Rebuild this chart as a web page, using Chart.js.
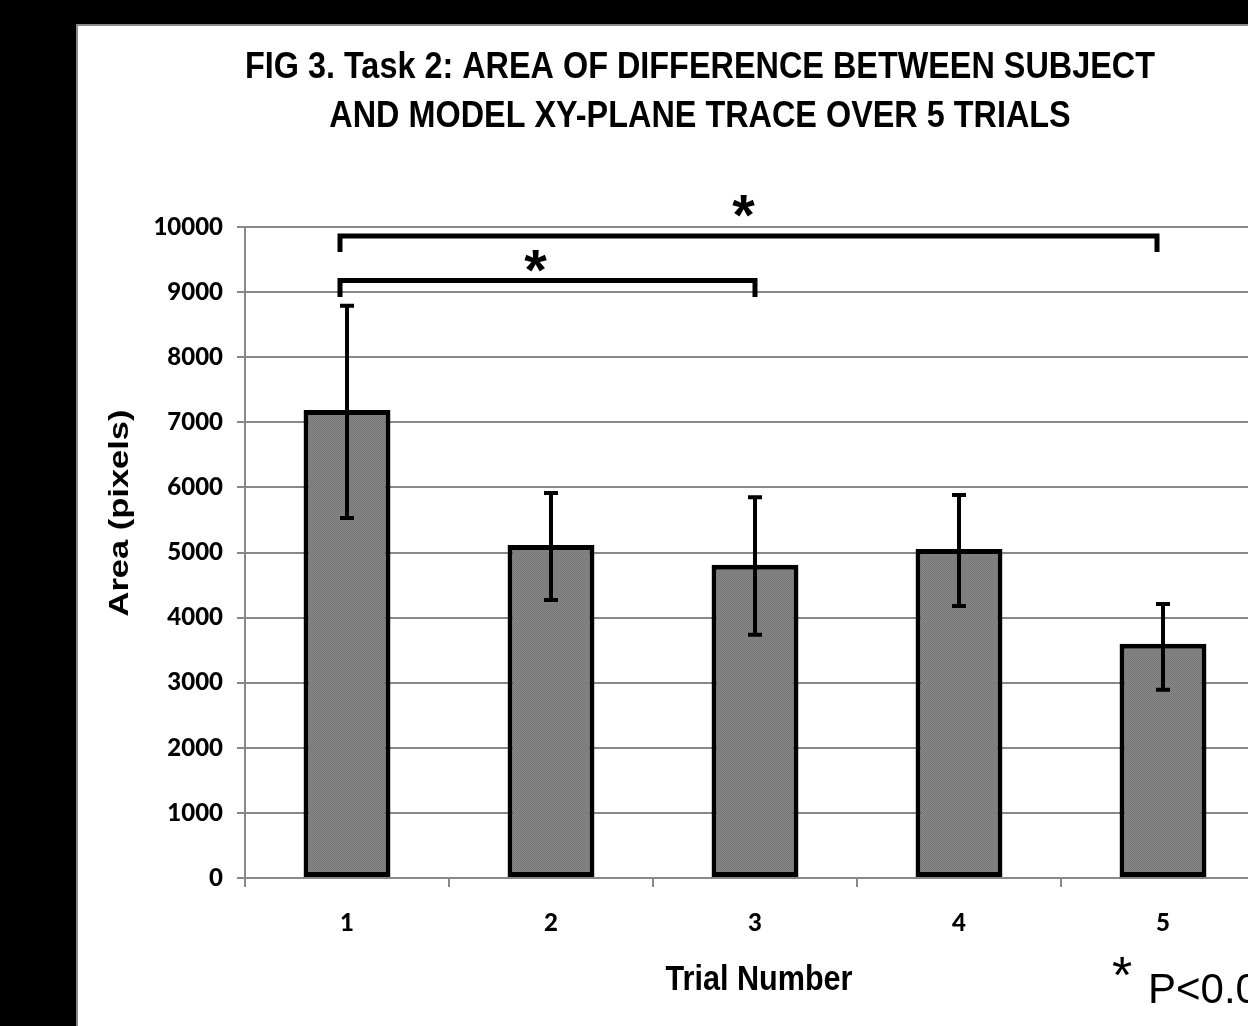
<!DOCTYPE html>
<html><head><meta charset="utf-8">
<script src="https://cdn.jsdelivr.net/npm/chart.js@4.4.1/dist/chart.umd.min.js"></script>
<style>
html,body{margin:0;padding:0;background:#000;overflow:hidden;}
#wrap{position:relative;width:1248px;height:1026px;overflow:hidden;background:#000;}
canvas{position:absolute;left:0;top:0;}
</style></head><body>
<div id="wrap"><canvas id="c" width="1300" height="1026"></canvas></div>
<script>
// ---- data ----
const categories = ['1', '2', '3', '4', '5'];
const areaValues = [7190, 5115, 4810, 5055, 3600];
const errorUpper = [8790, 5915, 5850, 5885, 4210];
const errorLower = [5530, 4270, 3735, 4180, 2890];
const yTickValues = [0, 1000, 2000, 3000, 4000, 5000, 6000, 7000, 8000, 9000, 10000];
const sigPairs = [['1', '3'], ['1', '5']];
const sigLevels = [9180, 9860];
const sigTickBottoms = [8925, 9615];
const sigStarLevels = [9480, 10320];
const titleLines = ['FIG 3. Task 2: AREA OF DIFFERENCE BETWEEN SUBJECT', 'AND MODEL XY-PLANE TRACE OVER 5 TRIALS'];
const xTitle = 'Trial Number';
const yTitle = 'Area (pixels)';
const noteStar = '*';
const noteText = 'P<0.05';

const canvas = document.getElementById('c');
const ctx = canvas.getContext('2d');

// checker fill like the original bars
const pc = document.createElement('canvas');
pc.width = 2; pc.height = 2;
const pctx = pc.getContext('2d');
pctx.fillStyle = '#868686'; pctx.fillRect(0, 0, 2, 2);
pctx.fillStyle = '#787878'; pctx.fillRect(0, 0, 1, 1); pctx.fillRect(1, 1, 1, 1);
const barPattern = ctx.createPattern(pc, 'repeat');

function fitText(c, text, x, y, font, width, rotate) {
  c.save();
  c.font = font;
  const w = c.measureText(text).width;
  const s = width / w;
  c.translate(x, y);
  if (rotate) c.rotate(-Math.PI / 2);
  c.scale(s, 1);
  c.textAlign = 'center';
  c.textBaseline = 'alphabetic';
  c.fillText(text, 0, 0);
  c.restore();
  return s;
}

const decor = {
  id: 'decor',
  beforeDraw(chart) {
    const c = chart.ctx;
    c.save();
    c.fillStyle = '#000';
    c.fillRect(0, 0, chart.width, chart.height);
    c.fillStyle = '#fff';
    c.fillRect(77, 25, chart.width, chart.height);
    c.strokeStyle = '#8a8a8a';
    c.lineWidth = 2;
    c.strokeRect(77, 25, chart.width + 10, chart.height + 10);
    c.restore();
  },
  afterDraw(chart) {
    const c = chart.ctx;
    c.save();
    c.fillStyle = '#000';
    // main title (condensed bold)
    const tFont = 'bold 36px "Liberation Sans Narrow", "Liberation Sans", Arial, sans-serif';
    c.font = tFont;
    const s = 910 / c.measureText(titleLines[0]).width;
    [78, 127].forEach((by, i) => {
      c.save();
      c.font = tFont;
      c.translate(700, by);
      c.scale(s, 1);
      c.textAlign = 'center';
      c.fillText(titleLines[i], 0, 0);
      c.restore();
    });
    // axis titles
    fitText(c, xTitle, 759, 990, 'bold 35px "Liberation Sans Narrow", "Liberation Sans", Arial, sans-serif', 187, false);
    fitText(c, yTitle, 128, 513, 'bold 28px "Liberation Sans", Arial, sans-serif', 207, true);
    // note
    c.font = '52px "Liberation Sans", Arial, sans-serif';
    const m = c.measureText(noteStar);
    c.textAlign = 'left';
    c.fillText(noteStar, 1112 - m.actualBoundingBoxLeft, 957 + m.actualBoundingBoxAscent);
    c.font = '42px "Liberation Sans", Arial, sans-serif';
    c.fillText(noteText, 1148, 1003);
    c.restore();
  },
  afterDatasetsDraw(chart) {
    const c = chart.ctx;
    const x = chart.scales.x, y = chart.scales.y;
    const meta = chart.getDatasetMeta(0);
    c.save();
    c.strokeStyle = '#000';
    c.lineCap = 'butt';
    // error bars
    meta.data.forEach((bar, i) => {
      const px = bar.x;
      const yt = y.getPixelForValue(errorUpper[i]);
      const yb = y.getPixelForValue(errorLower[i]);
      c.lineWidth = 4;
      c.beginPath();
      c.moveTo(px, yt); c.lineTo(px, yb);
      c.moveTo(px - 7, yt); c.lineTo(px + 7, yt);
      c.moveTo(px - 7, yb); c.lineTo(px + 7, yb);
      c.stroke();
    });
    // significance brackets
    sigPairs.forEach((pair, i) => {
      const x1 = x.getPixelForValue(categories.indexOf(pair[0])) - 7;
      const x2 = x.getPixelForValue(categories.indexOf(pair[1])) - (i === 0 ? 0 : 6);
      const yl = y.getPixelForValue(sigLevels[i]);
      const yb = y.getPixelForValue(sigTickBottoms[i]);
      c.lineWidth = 5;
      c.lineJoin = 'miter';
      c.beginPath();
      c.moveTo(x1, yb); c.lineTo(x1, yl); c.lineTo(x2, yl); c.lineTo(x2, yb);
      c.stroke();
      // star
      c.font = 'bold 58px "Liberation Sans", Arial, sans-serif';
      const m = c.measureText('*');
      const cx = (x1 + x2) / 2 - (i === 0 ? 12 : 5);
      const cy = y.getPixelForValue(sigStarLevels[i]);
      const base = cy + (m.actualBoundingBoxAscent - m.actualBoundingBoxDescent) / 2;
      c.textAlign = 'center';
      c.fillStyle = '#000';
      c.fillText('*', cx, base);
    });
    c.restore();
  }
};

const tickFont = { family: 'Lato', weight: '900', size: 24 };

new Chart(canvas, {
  type: 'bar',
  data: {
    labels: categories,
    datasets: [{
      data: areaValues,
      backgroundColor: barPattern,
      borderColor: '#000',
      borderWidth: 5,
      borderSkipped: false,
      barPercentage: 0.426,
      categoryPercentage: 1.0
    }]
  },
  options: {
    responsive: false,
    devicePixelRatio: 1,
    animation: false,
    layout: { padding: { left: 77, top: 227, right: 35, bottom: 0 } },
    plugins: { legend: { display: false }, title: { display: false }, tooltip: { enabled: false } },
    scales: {
      x: {
        offset: true,
        grid: { offset: true, drawOnChartArea: false, drawTicks: true, tickLength: 9, color: '#888', lineWidth: 2 },
        border: { display: true, color: '#888', width: 2 },
        ticks: { color: '#000', font: tickFont, padding: 22 },
        afterFit: s => { s.height = 148; }
      },
      y: {
        min: 0, max: 10000,
        afterBuildTicks: s => { s.ticks = yTickValues.map(v => ({ value: v })); },
        ticks: { color: '#000', font: tickFont, padding: 14, callback: v => String(v) },
        grid: { color: '#888', lineWidth: 2, tickLength: 8 },
        border: { color: '#888', width: 2 },
        afterFit: s => { s.width = 168; }
      }
    }
  },
  plugins: [decor]
});
</script>
</body></html>
